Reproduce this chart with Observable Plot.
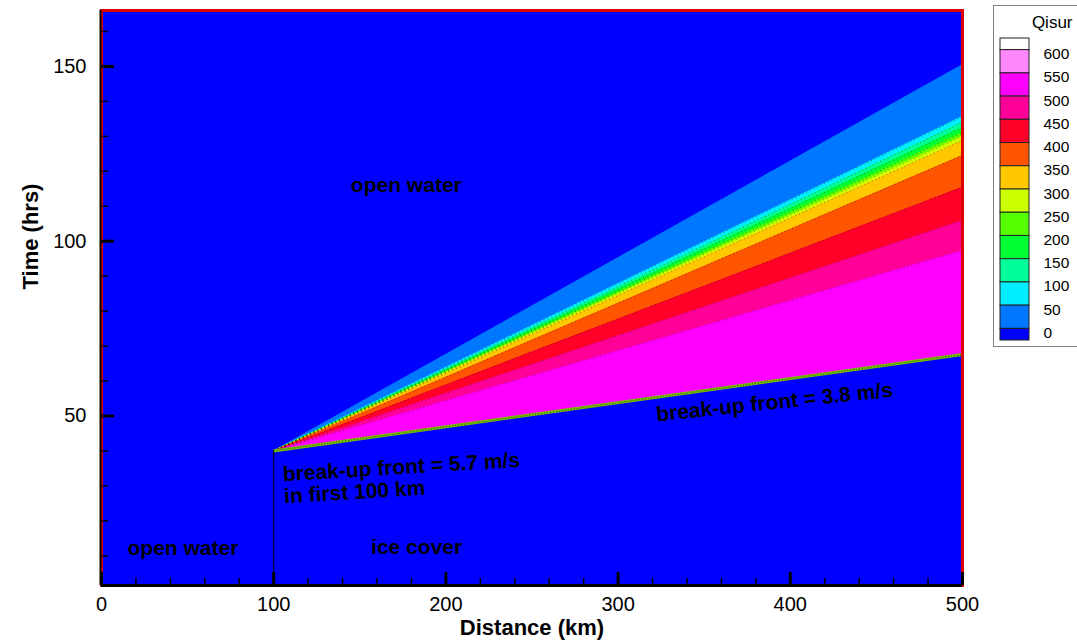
<!DOCTYPE html>
<html><head><meta charset="utf-8">
<script src="https://cdn.jsdelivr.net/npm/d3@7"></script>
<script src="https://cdn.jsdelivr.net/npm/@observablehq/plot@0.6"></script>
<style>
body{margin:0;background:#fff;}
#wrap{position:relative;width:1077px;height:641px;overflow:hidden;font-family:"Liberation Sans",Arial,sans-serif;}
#legend{position:absolute;left:993px;top:5px;width:95px;height:340px;border:1px solid #808080;background:#fff;}
</style></head><body><div id="wrap"><div id="chart"></div><div id="legend"></div></div>
<script>
// Legend levels (top to bottom) and their colours
const levels = [600, 550, 500, 450, 400, 350, 300, 250, 200, 150, 100, 50, 0];
const levelColors = ["#ff88ff", "#ff00ff", "#ff0099", "#ff0028", "#ff5500", "#ffc800", "#ccff00", "#55ff00", "#00ff33", "#00ff99", "#00eeff", "#0077ff", "#0000ff"];
const topColor = "#ffffff";
const legendTitle = "Qisur";

// Contour levels and the time (hrs) where each contour meets x = 500 km
const contourLevels = [50, 100, 150, 200, 250, 300, 350, 400, 450, 500, 550];
const contourTimeAt500 = [150.5, 135.7, 134.0, 132.5, 131.1, 130.0, 128.8, 124.5, 115.4, 105.9, 97.3];

// Break-up front: distance (km) and time (hrs)
const frontDistance = [100, 500];
const frontTime = [40, 67.6];

// Axis ticks
const xMajor = [0, 100, 200, 300, 400, 500];
const xMinor = [20, 40, 60, 80, 120, 140, 160, 180, 220, 240, 260, 280, 320, 340, 360, 380, 420, 440, 460, 480];
const yMajor = [50, 100, 150];
const yMinor = [10, 20, 30, 40, 60, 70, 80, 90, 110, 120, 130, 140, 160];

// Annotations (data coordinates)
const annotations = [
  {text: "open water", x: 177, y: 115.9, rotate: 0},
  {text: "open water", x: 47.3, y: 12.1, rotate: 0},
  {text: "ice cover", x: 183, y: 12.4, rotate: 0},
  {text: "break-up front = 3.8 m/s", x: 390.8, y: 53.9, rotate: -6}
];
const note57 = [{text: "break-up front = 5.7 m/s\nin first 100 km", x: 105, y: 35.8, rotate: -3.5}];

const yDomain = [1.5, 166];
const colorOf = new Map(levels.map((l, i) => [l, levelColors[i]]));

const bandMarks = contourLevels.map((L, k) => Plot.areaY(
  [{x: frontDistance[0], y1: frontTime[0], y2: frontTime[0]},
   {x: frontDistance[1], y1: frontTime[1], y2: contourTimeAt500[k]}],
  {x: "x", y1: "y1", y2: "y2", fill: colorOf.get(L)}
));

const blank = () => "";
const font = "'Liberation Sans', Arial, sans-serif";

const chart = Plot.plot({
  width: 1077, height: 641,
  marginLeft: 101, marginRight: 115, marginTop: 10, marginBottom: 56,
  x: {domain: [0, 500], label: null},
  y: {domain: yDomain, label: null},
  style: {fontFamily: font, background: "white", color: "black", overflow: "visible"},
  marks: [
    Plot.frame({fill: "#0000ff", stroke: null}),
    ...bandMarks,
    Plot.link(contourLevels.slice(1), {
      x1: frontDistance[0], y1: frontTime[0], x2: frontDistance[1],
      y2: (d, i) => contourTimeAt500[i + 1],
      stroke: "black", strokeWidth: 1, strokeDasharray: "1,3", strokeOpacity: 0.45
    }),
    Plot.link([0], {x1: frontDistance[0], y1: frontTime[0], x2: frontDistance[1], y2: frontTime[1], stroke: "#77c000", strokeWidth: 3}),
    Plot.link([0], {x1: frontDistance[0], y1: frontTime[0], x2: frontDistance[1], y2: frontTime[1], stroke: "#000", strokeWidth: 1, strokeDasharray: "1,2", strokeOpacity: 0.6}),
    Plot.ruleX([frontDistance[0]], {y1: yDomain[0], y2: frontTime[0], stroke: "black", strokeWidth: 1}),
    Plot.text(annotations, {x: "x", y: "y", text: "text", rotate: "rotate", fontSize: 21, fontWeight: "bold", fill: "black"}),
    Plot.text(note57, {x: "x", y: "y", text: "text", rotate: "rotate", fontSize: 21, fontWeight: "bold", fill: "black", textAnchor: "start", lineAnchor: "top", lineHeight: 1.05}),
    Plot.frame({stroke: "#dd0000", strokeWidth: 3}),
    Plot.ruleX([0], {stroke: "black", strokeWidth: 2, dx: -1}),
    Plot.ruleY([yDomain[0]], {stroke: "black", strokeWidth: 3}),
    Plot.axisX(xMajor, {anchor: "bottom", tickSize: 0, tickPadding: 11, fontSize: 20, label: null, tickFormat: d => String(d)}),
    Plot.axisX(xMajor, {anchor: "bottom", tickSize: -13, strokeWidth: 3, label: null, tickFormat: blank}),
    Plot.axisX(xMinor, {anchor: "bottom", tickSize: -7, strokeWidth: 1.5, label: null, tickFormat: blank}),
    Plot.axisY(yMajor, {anchor: "left", tickSize: 0, tickPadding: 15, fontSize: 20, label: null, tickFormat: d => String(d)}),
    Plot.axisY(yMajor, {anchor: "left", tickSize: -13, strokeWidth: 3, label: null, tickFormat: blank}),
    Plot.axisY(yMinor, {anchor: "left", tickSize: -7, strokeWidth: 1.5, label: null, tickFormat: blank}),
    Plot.text(["Distance (km)"], {frameAnchor: "bottom", dy: 42, fontSize: 22, fontWeight: "bold", lineAnchor: "middle"}),
    Plot.text(["Time (hrs)"], {frameAnchor: "left", dx: -71, dy: -8.5, rotate: -90, fontSize: 22, fontWeight: "bold", lineAnchor: "middle"})
  ]
});
document.getElementById("chart").appendChild(chart);

// Legend
const legendKeys = ["top", ...levels];
const legendColors = [topColor, ...levelColors];
const swatches = legendKeys.map((k, i) => ({
  key: k, fill: legendColors[i],
  y1: i === 0 ? 0 : i - 0.5,
  y2: i === 0 ? 0.5 : (i === legendKeys.length - 1 ? legendKeys.length - 1 : i + 0.5)
}));
const labelRows = levels.map((l, i) => ({label: String(l), y: i + 0.5}));

const legend = Plot.plot({
  width: 95, height: 340, margin: 0,
  x: {domain: [0, 95], range: [0, 95], axis: null},
  y: {domain: [0, 13], range: [32, 334], axis: null},
  style: {fontFamily: font, background: "white", color: "black", overflow: "visible"},
  marks: [
    Plot.rect(swatches, {x1: 6, x2: 35, y1: "y1", y2: "y2", fill: "fill", stroke: "#222", strokeWidth: 1}),
    Plot.text(labelRows, {x: 49, y: "y", text: "label", textAnchor: "start", lineAnchor: "top", dy: -2, fontSize: 15.5, fill: "black"}),
    Plot.text([legendTitle], {frameAnchor: "top-left", dx: 78, dy: 16, textAnchor: "end", lineAnchor: "middle", fontSize: 17, fill: "black"})
  ]
});
document.getElementById("legend").appendChild(legend);
</script>
</body></html>
